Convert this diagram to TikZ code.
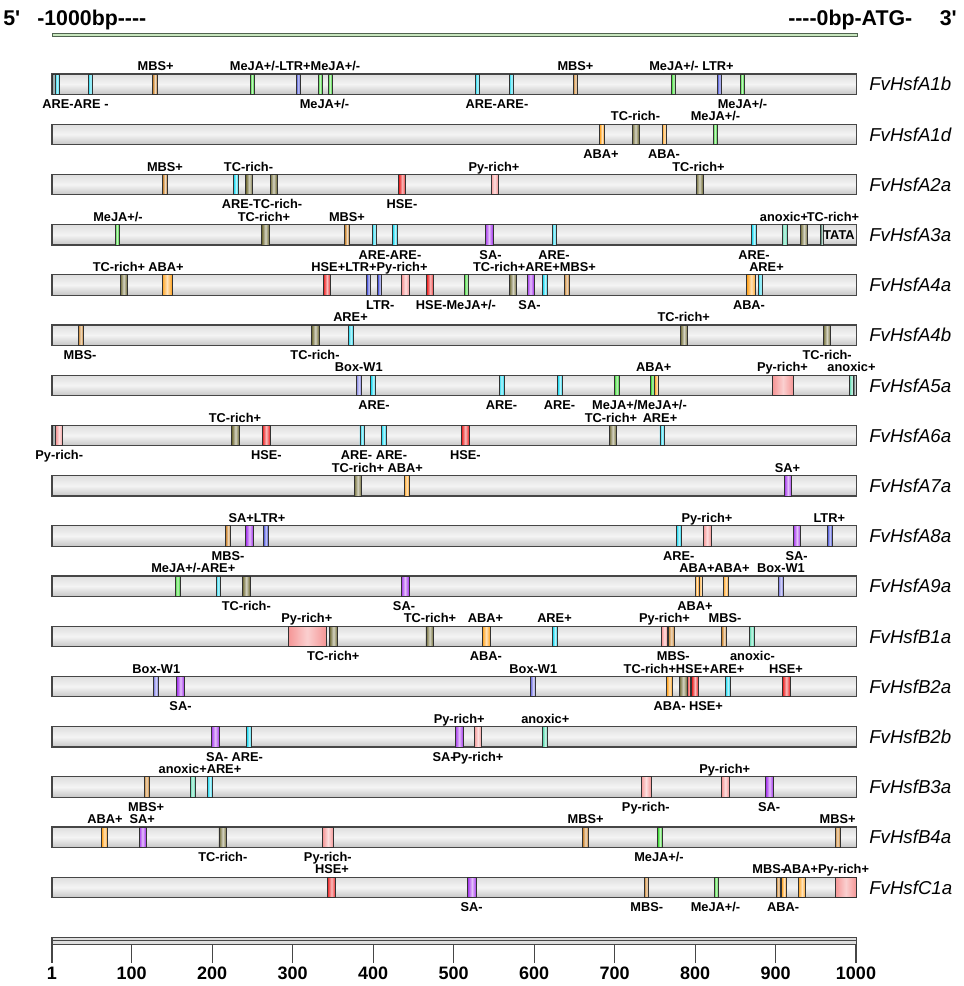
\documentclass[tikz,border=0pt]{standalone}
\usepackage{fontspec}
\setmainfont{Liberation Sans}
\definecolor{AREc}{RGB}{20,215,240}
\definecolor{MBSc}{RGB}{200,128,40}
\definecolor{ABAc}{RGB}{255,160,25}
\definecolor{MeJAc}{RGB}{50,215,40}
\definecolor{LTRc}{RGB}{60,70,215}
\definecolor{TCc}{RGB}{110,105,50}
\definecolor{HSEc}{RGB}{235,30,30}
\definecolor{Pyc}{RGB}{245,150,150}
\definecolor{SAc}{RGB}{160,45,235}
\definecolor{BOXc}{RGB}{115,115,225}
\definecolor{ANXc}{RGB}{80,215,170}
\definecolor{TATAc}{RGB}{40,110,85}
\definecolor{ENDc}{RGB}{90,105,105}
\definecolor{edgec}{RGB}{50,50,50}
\definecolor{barE}{RGB}{70,70,70}
\definecolor{barT}{RGB}{222,222,222}
\definecolor{barM}{RGB}{244,244,244}
\definecolor{barB}{RGB}{198,198,198}
\definecolor{topE}{RGB}{80,100,80}
\definecolor{topF}{RGB}{200,230,190}
\newcommand\bh{20.4}
\newcommand\cisE[3]{\draw[elem,left color=#3,right color=#3,middle color=#3!30!white] ({#1-(#2)/2},0) rectangle ({#1+(#2)/2},\bh);}
\newcommand\cisW[3]{\draw[elem,left color=#3,right color=#3,middle color=#3!45!white] ({#1-(#2)/2},0) rectangle ({#1+(#2)/2},\bh);}
\newcommand\cisA[2]{\node[lab] at (#1,-3.3) {#2};}
\newcommand\cisB[2]{\node[lab] at (#1,34.4) {#2};}
\newcommand\gbar[1]{\draw[bar] (52,0) rectangle (856.5,\bh); \node[gene] at (869,10.2) {#1};}
\newcommand\hyk{-\kern0pt}
\begin{document}
\begin{tikzpicture}[x=0.75pt,y=-0.75pt,
  elem/.style={draw=edgec,line width=0.6pt},
  bar/.style={draw=barE,line width=0.9pt,top color=barT,bottom color=barB,middle color=barM},
  lab/.style={anchor=base,inner sep=0pt,font=\fontsize{9.6}{11}\selectfont\bfseries},
  gene/.style={anchor=west,inner sep=0pt,font=\fontsize{14}{16}\selectfont\itshape},
  toptxt/.style={inner sep=0pt,font=\fontsize{16}{18}\selectfont\bfseries},
  num/.style={anchor=base,inner sep=0pt,font=\fontsize{13.5}{15}\selectfont\bfseries},
  tick/.style={draw=barE,line width=0.8pt}]
\useasboundingbox (0,0) rectangle (964,986);
\fill[white] (0,0) rectangle (964,986);
% header
\node[toptxt,anchor=base west] (p5) at (3,25) {5\textquotesingle};
\node[toptxt,anchor=base west] (m1000) at (37,25) {-1000bp\hyk\hyk\hyk-};
\node[toptxt,anchor=base west] (p0) at (788,25) {\hyk\hyk\hyk-0bp-ATG-};
\node[toptxt,anchor=base east] (p3) at (957,25) {3\textquotesingle};
\draw[topE,fill=topF,line width=0.6pt] (52,33.3) rectangle (857,36.7);
% row 0 A1b
\begin{scope}[shift={(0,74)}]
\gbar{FvHsfA1b}
\cisE{53.6}{3}{ENDc}
\cisE{57.2}{4.5}{AREc}\cisE{90.5}{4.5}{AREc}\cisE{155}{4.5}{MBSc}\cisE{252}{4}{MeJAc}
\cisE{298.3}{4.5}{LTRc}\cisE{320}{4}{MeJAc}\cisE{330}{4}{MeJAc}\cisE{477.5}{4.5}{AREc}
\cisE{511.5}{4.5}{AREc}\cisE{575.5}{4.5}{MBSc}\cisE{673.5}{4}{MeJAc}\cisE{719.5}{4.5}{LTRc}
\cisE{742}{4}{MeJAc}
\cisA{155.7}{MBS+}\cisA{295}{MeJA+/-LTR+MeJA+/-}\cisA{575.5}{MBS+}\cisA{691.5}{MeJA+/- LTR+}
\cisB{75.5}{ARE-ARE -}\cisB{324.5}{MeJA+/-}\cisB{497}{ARE-ARE-}\cisB{742.5}{MeJA+/-}
\end{scope}
% row 1 A1d
\begin{scope}[shift={(0,124.2)}]
\gbar{FvHsfA1d}
\cisE{602}{4.5}{ABAc}\cisE{635.5}{7}{TCc}\cisE{664.5}{4.5}{ABAc}\cisE{715}{4}{MeJAc}
\cisA{635.5}{TC-rich-}\cisA{715.5}{MeJA+/-}
\cisB{601}{ABA+}\cisB{664}{ABA-}
\end{scope}
% row 2 A2a
\begin{scope}[shift={(0,174.4)}]
\gbar{FvHsfA2a}
\cisE{165}{4.5}{MBSc}\cisE{236}{4.5}{AREc}\cisE{249.3}{7}{TCc}\cisE{273.5}{7}{TCc}
\cisE{402.3}{7}{HSEc}\cisE{494.5}{7}{Pyc}\cisE{699.5}{7}{TCc}
\cisA{165}{MBS+}\cisA{248.5}{TC-rich-}\cisA{494}{Py-rich+}\cisA{698.5}{TC-rich+}
\cisB{262}{ARE-TC-rich-}\cisB{402}{HSE-}
\end{scope}
% row 3 A3a
\begin{scope}[shift={(0,224.6)}]
\gbar{FvHsfA3a}
\cisE{117}{4}{MeJAc}\cisE{265.5}{7.5}{TCc}\cisE{347}{4.5}{MBSc}\cisE{374.5}{4.5}{AREc}
\cisE{395}{4.5}{AREc}\cisE{489}{8}{SAc}\cisE{554.3}{4.5}{AREc}\cisE{754}{4.5}{AREc}
\cisE{784.5}{5}{ANXc}\cisE{804}{7.5}{TCc}\cisE{822}{3.5}{TATAc}
\node[lab,anchor=center] (tata) at (839,10.4) {TATA};
\cisA{118}{MeJA+/-}\cisA{264}{TC-rich+}\cisA{347}{MBS+}\cisA{784}{anoxic+}\cisA{833}{TC-rich+}
\cisB{390}{ARE-ARE-}\cisB{490.5}{SA-}\cisB{554}{ARE-}\cisB{754}{ARE-}
\end{scope}
% row 4 A4a
\begin{scope}[shift={(0,274.8)}]
\gbar{FvHsfA4a}
\cisE{123.7}{7}{TCc}\cisE{167}{10}{ABAc}\cisE{327}{7}{HSEc}\cisE{368.7}{4}{LTRc}
\cisE{379.7}{4}{LTRc}\cisE{405.5}{7.5}{Pyc}\cisE{430.3}{7}{HSEc}\cisE{466.5}{4.5}{MeJAc}
\cisE{513}{7.5}{TCc}\cisE{530.5}{7}{SAc}\cisE{545}{4.5}{AREc}\cisE{566.7}{5}{MBSc}
\cisE{751.3}{9}{ABAc}\cisE{760.5}{4.5}{AREc}
\cisA{119}{TC-rich+}\cisA{166}{ABA+}\cisA{369.5}{HSE+LTR+Py-rich+}\cisA{534.5}{TC-rich+ARE+MBS+}\cisA{766.5}{ARE+}
\cisB{380.3}{LTR-}\cisB{456}{HSE-MeJA+/-}\cisB{529.5}{SA-}\cisB{749}{ABA-}
\end{scope}
% row 5 A4b
\begin{scope}[shift={(0,325)}]
\gbar{FvHsfA4b}
\cisE{80.8}{5}{MBSc}\cisE{315.3}{7.5}{TCc}\cisE{350.8}{5}{AREc}\cisE{684}{7.5}{TCc}\cisE{827}{7.5}{TCc}
\cisA{350.5}{ARE+}\cisA{683.7}{TC-rich+}
\cisB{80}{MBS-}\cisB{315}{TC-rich-}\cisB{827.2}{TC-rich-}
\end{scope}
% row 6 A5a
\begin{scope}[shift={(0,375.2)}]
\gbar{FvHsfA5a}
\cisE{358.8}{5.5}{BOXc}\cisE{373.3}{5}{AREc}\cisE{501.5}{5}{AREc}\cisE{560}{4.6}{AREc}
\cisE{616.7}{4.6}{MeJAc}\cisE{652.5}{3.6}{MeJAc}\cisE{656.7}{4}{ABAc}\cisW{783}{20.6}{Pyc}
\cisE{851.7}{4.6}{ANXc}\cisE{855}{2.6}{ENDc}
\cisA{358.8}{Box-W1}\cisA{653.7}{ABA+}\cisA{782.5}{Py-rich+}\cisA{851.5}{anoxic+}
\cisB{374}{ARE-}\cisB{501.5}{ARE-}\cisB{559.5}{ARE-}\cisB{639.5}{MeJA+/MeJA+/-}
\end{scope}
% row 7 A6a
\begin{scope}[shift={(0,425.4)}]
\gbar{FvHsfA6a}
\cisE{53.6}{3}{ENDc}
\cisE{59.2}{7}{Pyc}\cisE{235.5}{7.5}{TCc}\cisE{266.2}{7.5}{HSEc}\cisE{362.2}{4.5}{AREc}
\cisE{383.8}{4.5}{AREc}\cisE{465.3}{7.5}{HSEc}\cisE{612.8}{7.5}{TCc}\cisE{662.2}{4.5}{AREc}
\cisA{235}{TC-rich+}\cisA{611}{TC-rich+}\cisA{660}{ARE+}
\cisB{59.2}{Py-rich-}\cisB{266.3}{HSE-}\cisB{374}{ARE- ARE-}\cisB{465.3}{HSE-}
\end{scope}
% row 8 A7a
\begin{scope}[shift={(0,475.6)}]
\gbar{FvHsfA7a}
\cisE{357.8}{7.5}{TCc}\cisE{406.7}{5}{ABAc}\cisE{788}{7.5}{SAc}
\cisA{377.3}{TC-rich+ ABA+}\cisA{787.5}{SA+}
\end{scope}
% row 9 A8a
\begin{scope}[shift={(0,525.8)}]
\gbar{FvHsfA8a}
\cisE{228.2}{5}{MBSc}\cisE{249.5}{7.5}{SAc}\cisE{265.8}{5}{LTRc}\cisE{678.8}{4.5}{AREc}
\cisE{707.2}{7.5}{Pyc}\cisE{797}{7.5}{SAc}\cisE{829.8}{5}{LTRc}
\cisA{257}{SA+LTR+}\cisA{707}{Py-rich+}\cisA{829.3}{LTR+}
\cisB{228}{MBS-}\cisB{678.8}{ARE-}\cisB{796.7}{SA-}
\end{scope}
% row 10 A9a
\begin{scope}[shift={(0,576)}]
\gbar{FvHsfA9a}
\cisE{177.5}{5}{MeJAc}\cisE{218.3}{4.5}{AREc}\cisE{246.2}{7.5}{TCc}\cisE{405}{8}{SAc}
\cisE{697}{3.8}{ABAc}\cisE{700.8}{3.8}{ABAc}\cisE{725.8}{5}{ABAc}\cisE{780.8}{5}{BOXc}
\cisA{193.3}{MeJA+/-ARE+}\cisA{714.5}{ABA+ABA+}\cisA{781}{Box-W1}
\cisB{246.3}{TC-rich-}\cisB{404}{SA-}\cisB{695}{ABA+}
\end{scope}
% row 11 B1a
\begin{scope}[shift={(0,626.2)}]
\gbar{FvHsfB1a}
\cisW{307.2}{37.7}{Pyc}\cisE{333.5}{8}{TCc}\cisE{429.7}{7.5}{TCc}\cisE{486.2}{7.5}{ABAc}
\cisE{555}{4.5}{AREc}\cisE{664.5}{5.6}{Pyc}\cisE{671.3}{6}{MBSc}\cisE{724.2}{5}{MBSc}
\cisE{751.7}{4.7}{ANXc}
\cisA{306.8}{Py-rich+}\cisA{430}{TC-rich+}\cisA{485.5}{ABA+}\cisA{554.5}{ARE+}\cisA{664.5}{Py-rich+}\cisA{725}{MBS-}
\cisB{333.3}{TC-rich+}\cisB{485.8}{ABA-}\cisB{673.3}{MBS-}\cisB{752.5}{anoxic-}
\end{scope}
% row 12 B2a
\begin{scope}[shift={(0,676.4)}]
\gbar{FvHsfB2a}
\cisE{155.8}{5}{BOXc}\cisE{180.5}{7.6}{SAc}\cisE{533.3}{5}{BOXc}\cisE{669.5}{5.5}{ABAc}
\cisE{683.3}{8}{TCc}\cisE{688.7}{2.7}{HSEc}\cisE{695}{6.6}{HSEc}\cisE{727.8}{4.5}{AREc}
\cisE{786.3}{7.3}{HSEc}
\cisA{156.3}{Box-W1}\cisA{533.3}{Box-W1}\cisA{684}{TC-rich+HSE+ARE+}\cisA{786}{HSE+}
\cisB{180.5}{SA-}\cisB{688.3}{ABA- HSE+}
\end{scope}
% row 13 B2b
\begin{scope}[shift={(0,726.6)}]
\gbar{FvHsfB2b}
\cisE{215.2}{8.3}{SAc}\cisE{249.2}{5}{AREc}\cisE{459.2}{8.3}{SAc}\cisE{478}{7.4}{Pyc}\cisE{545.2}{5}{ANXc}
\cisA{459.2}{Py-rich+}\cisA{545.3}{anoxic+}
\cisB{234.5}{SA- ARE-}\cisB{443.7}{SA-}\cisB{478}{Py-rich+}
\end{scope}
% row 14 B3a
\begin{scope}[shift={(0,776.8)}]
\gbar{FvHsfB3a}
\cisE{146.5}{5}{MBSc}\cisE{192.5}{5}{ANXc}\cisE{210}{5.3}{AREc}\cisE{646}{10}{Pyc}
\cisE{725.3}{7.3}{Pyc}\cisE{769.5}{7.6}{SAc}
\cisA{200}{anoxic+ARE+}\cisA{724.7}{Py-rich+}
\cisB{146.2}{MBS+}\cisB{645.8}{Py-rich-}\cisB{769.2}{SA-}
\end{scope}
% row 15 B4a
\begin{scope}[shift={(0,827)}]
\gbar{FvHsfB4a}
\cisE{104.5}{5.6}{ABAc}\cisE{142.5}{7}{SAc}\cisE{222.8}{7.7}{TCc}\cisE{328}{10.6}{Pyc}
\cisE{585.5}{5.6}{MBSc}\cisE{660}{4.6}{MeJAc}\cisE{837.5}{5}{MBSc}
\cisA{104.9}{ABA+}\cisA{142.3}{SA+}\cisA{585.6}{MBS+}\cisA{837.6}{MBS+}
\cisB{222.8}{TC-rich-}\cisB{327.8}{Py-rich-}\cisB{659}{MeJA+/-}
\end{scope}
% row 16 C1a
\begin{scope}[shift={(0,877.2)}]
\gbar{FvHsfC1a}
\cisE{331.5}{8.4}{HSEc}\cisE{472}{9}{SAc}\cisE{646.5}{4.4}{MBSc}\cisE{716.2}{4.4}{MeJAc}
\cisE{778.3}{4}{MBSc}\cisE{784}{5}{ABAc}\cisE{802}{7.5}{ABAc}\cisW{845.8}{20.8}{Pyc}
\cisA{332}{HSE+}\cisA{768.8}{MBS-}\cisA{826}{ABA+Py-rich+}
\cisB{471.7}{SA-}\cisB{646.8}{MBS-}\cisB{715.5}{MeJA+/-}\cisB{783.2}{ABA-}
\end{scope}
% axis
\draw[barE,fill=barT,line width=0.8pt] (52,937.7) rectangle (856.5,944.3);
\draw[barE,line width=0.6pt] (52,940.8) -- (856.5,940.8);
\foreach \v in {1,100,200,300,400,500,600,700,800,900,1000}{
  \draw[tick] ({52+(\v-1)*0.8048},944.3) -- ({52+(\v-1)*0.8048},963);
  \node[num] at ({52+(\v-1)*0.8048},979.3) {\v};
}
\end{tikzpicture}
\end{document}
